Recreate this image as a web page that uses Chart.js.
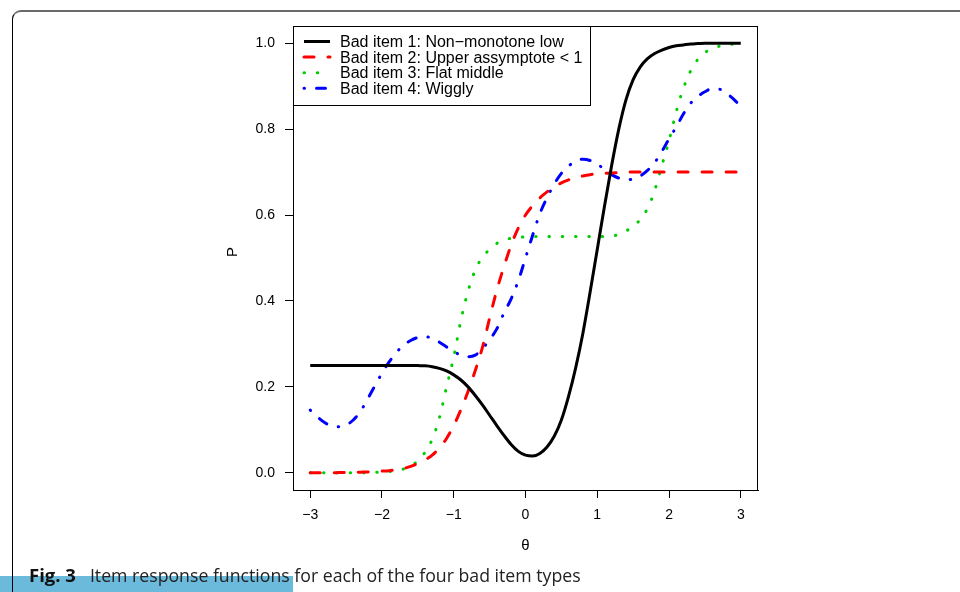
<!DOCTYPE html>
<html>
<head>
<meta charset="utf-8">
<script src="https://cdn.jsdelivr.net/npm/chart.js@4.4.1/dist/chart.umd.min.js"></script>
<style>
  body { margin: 0; width: 960px; height: 592px; overflow: hidden; background: #fff; position: relative; }
  #bar { position: absolute; left: 0; top: 576px; width: 293px; height: 16px; background: #6bb9db; }
  #frame { position: absolute; left: 12px; top: 10px; width: 1000px; height: 700px;
           border-top: 2px solid #6a6a6a; border-left: 1px solid #000; border-top-left-radius: 9px; }
  #c { position: absolute; left: 0; top: 0; }
  #cap { position: absolute; left: 29px; top: 565px; font: 17.7px "Open Sans", sans-serif; line-height: 20px;
         color: #222; white-space: nowrap; }
  #cap b { color: #111; margin-right: 14px; font-size: 18.5px; }
</style>
</head>
<body>
<div id="bar"></div>
<div id="frame"></div>
<canvas id="c" width="960" height="592"></canvas>
<div id="cap"><b>Fig. 3</b>Item response functions for each of the four bad item types</div>
<script>
// theta grid and item response values
const theta = [-3, -2.9, -2.8, -2.7, -2.6, -2.5, -2.4, -2.3, -2.2, -2.1,
               -2, -1.9, -1.8, -1.7, -1.6, -1.5, -1.4, -1.3, -1.2, -1.1,
               -1, -0.9, -0.8, -0.7, -0.6, -0.5, -0.4, -0.3, -0.2, -0.1,
               0, 0.1, 0.2, 0.3, 0.4, 0.5, 0.6, 0.7, 0.8, 0.9,
               1, 1.1, 1.2, 1.3, 1.4, 1.5, 1.6, 1.7, 1.8, 1.9,
               2, 2.1, 2.2, 2.3, 2.4, 2.5, 2.6, 2.7, 2.8, 2.9, 3];
const item1 = [0.25, 0.25, 0.25, 0.25, 0.25, 0.25, 0.25, 0.25, 0.25, 0.25,
               0.25, 0.25, 0.25, 0.25, 0.25, 0.2495, 0.249, 0.247, 0.243, 0.237,
               0.228, 0.216, 0.2, 0.18, 0.158, 0.134, 0.11, 0.087, 0.066, 0.05,
               0.041, 0.039, 0.045, 0.06, 0.085, 0.123, 0.178, 0.245, 0.325, 0.42,
               0.52, 0.62, 0.715, 0.8, 0.868, 0.915, 0.945, 0.964, 0.976, 0.984,
               0.99, 0.994, 0.996, 0.998, 0.999, 1, 1, 1, 1, 1, 1];
const item2 = [0, 0, 0, 0.0003, 0.0005, 0.0007, 0.001, 0.0015, 0.002, 0.003,
               0.004, 0.005, 0.007, 0.01, 0.015, 0.022, 0.03, 0.041, 0.058, 0.08,
               0.11, 0.147, 0.19, 0.238, 0.292, 0.36, 0.425, 0.48, 0.53, 0.57,
               0.6, 0.622, 0.64, 0.654, 0.665, 0.675, 0.682, 0.687, 0.691, 0.694,
               0.696, 0.697, 0.698, 0.699, 0.7, 0.7, 0.7, 0.7, 0.7, 0.7,
               0.7, 0.7, 0.7, 0.7, 0.7, 0.7, 0.7, 0.7, 0.7, 0.7, 0.7];
const item3 = [0, 0, 0, 0, 0, 0, 0, 0, 0.0005, 0.001,
               0.002, 0.003, 0.005, 0.009, 0.016, 0.028, 0.048, 0.078, 0.128, 0.2,
               0.27, 0.355, 0.423, 0.472, 0.502, 0.52, 0.534, 0.542, 0.546, 0.548,
               0.549, 0.55, 0.55, 0.55, 0.55, 0.55, 0.55, 0.55, 0.55, 0.55,
               0.55, 0.55, 0.551, 0.555, 0.563, 0.573, 0.59, 0.615, 0.657, 0.715,
               0.773, 0.84, 0.895, 0.935, 0.962, 0.978, 0.987, 0.993, 0.996, 0.998, 0.999];
const item4 = [0.146, 0.13, 0.117, 0.109, 0.107, 0.111, 0.123, 0.143, 0.172, 0.202,
               0.232, 0.258, 0.28, 0.297, 0.308, 0.315, 0.317, 0.313, 0.304, 0.293,
               0.282, 0.274, 0.27, 0.274, 0.289, 0.31, 0.335, 0.372, 0.405, 0.447,
               0.5, 0.553, 0.603, 0.64, 0.672, 0.697, 0.714, 0.725, 0.73, 0.727,
               0.719, 0.706, 0.694, 0.686, 0.682, 0.684, 0.691, 0.704, 0.722, 0.748,
               0.777, 0.805, 0.835, 0.86, 0.876, 0.887, 0.894, 0.893, 0.883, 0.87, 0.852];

const seriesNames = ['Bad item 1: Non\u2212monotone low', 'Bad item 2: Upper assymptote < 1',
                     'Bad item 3: Flat middle', 'Bad item 4: Wiggly'];
const xTicks = [-3, -2, -1, 0, 1, 2, 3];
const xTickLabels = ['\u22123', '\u22122', '\u22121', '0', '1', '2', '3'];
const yTicks = [0, 0.2, 0.4, 0.6, 0.8, 1];
const yTickLabels = ['0.0', '0.2', '0.4', '0.6', '0.8', '1.0'];
const xTitle = '\u03b8';
const yTitle = 'P';

const FONT = '"Liberation Sans", Arial, sans-serif';

function pts(vals) {
    return theta.map((t, i) => ({ x: t, y: vals[i] }));
}

const styles = [
    { color: '#000000', dash: [], cap: 'butt' },
    { color: '#ff0000', dash: [10, 14], cap: 'round' },
    { color: '#00cd00', dash: [0.5, 12.8], cap: 'round' },
    { color: '#0000ff', dash: [0.5, 12, 9, 12], cap: 'round' }
];
const allItems = [item1, item2, item3, item4];

// box around the plot, axis titles and the legend inside the top-left corner
const rBox = {
    id: 'rBox',
    afterDraw(chart) {
        const { ctx, chartArea: a } = chart;
        ctx.save();
        ctx.strokeStyle = '#000';
        ctx.lineWidth = 1;
        ctx.setLineDash([]);
        ctx.strokeRect(a.left + 0.5, a.top + 0.5, a.right - a.left - 1, a.bottom - a.top);

        ctx.fillStyle = '#000';
        ctx.font = '15px ' + FONT;
        ctx.textAlign = 'center';
        ctx.textBaseline = 'middle';
        ctx.fillText(xTitle, (a.left + a.right) / 2, a.bottom + 56);
        ctx.save();
        ctx.translate(a.left - 60, (a.top + a.bottom) / 2 - 6);
        ctx.rotate(-Math.PI / 2);
        ctx.fillText(yTitle, 0, 0);
        ctx.restore();

        // legend
        const lx = a.left + 0.5, ly = a.top + 0.5, lw = 297, lh = 79;
        ctx.fillStyle = '#fff';
        ctx.fillRect(lx, ly, lw, lh);
        ctx.strokeRect(lx, ly, lw, lh);
        ctx.font = '16px ' + FONT;
        ctx.textAlign = 'left';
        chart.data.datasets.forEach((ds, i) => {
            const y = a.top + 15.5 + i * 15.6;
            ctx.beginPath();
            ctx.strokeStyle = ds.borderColor;
            ctx.lineWidth = ds.borderWidth;
            ctx.lineCap = ds.borderCapStyle;
            ctx.setLineDash(ds.borderDash);
            ctx.moveTo(a.left + 11, y);
            ctx.lineTo(a.left + 37, y);
            ctx.stroke();
            ctx.setLineDash([]);
            ctx.fillStyle = '#000';
            ctx.fillText(ds.label, a.left + 47, y + 1);
        });
        ctx.restore();
    }
};

const ctx = document.getElementById('c').getContext('2d');
new Chart(ctx, {
    type: 'line',
    data: {
        datasets: allItems.map((vals, i) => ({
            label: seriesNames[i],
            data: pts(vals),
            borderColor: styles[i].color,
            borderWidth: 3,
            borderDash: styles[i].dash,
            borderCapStyle: styles[i].cap,
            pointRadius: 0,
            cubicInterpolationMode: 'monotone',
            fill: false
        }))
    },
    options: {
        responsive: false,
        animation: false,
        layout: { padding: { top: 26, right: 202, bottom: 0, left: 0 } },
        plugins: { legend: { display: false }, tooltip: { enabled: false } },
        scales: {
            x: {
                type: 'linear',
                min: -3.24,
                max: 3.24,
                afterBuildTicks: s => { s.ticks = xTicks.map(v => ({ value: v })); },
                afterFit: s => { s.height = 102; },
                ticks: {
                    color: '#000',
                    font: { family: FONT, size: 14 },
                    padding: 9,
                    maxRotation: 0,
                    autoSkip: false,
                    callback: (v) => xTickLabels[xTicks.indexOf(v)]
                },
                grid: { drawOnChartArea: false, drawTicks: true, tickLength: 8, color: '#000' },
                border: { display: true, color: '#000', width: 1 }
            },
            y: {
                min: -0.04,
                max: 1.04,
                afterBuildTicks: s => { s.ticks = yTicks.map(v => ({ value: v })); },
                afterFit: s => { s.width = 293; },
                ticks: {
                    color: '#000',
                    font: { family: FONT, size: 14 },
                    padding: 10,
                    autoSkip: false,
                    callback: (v) => yTickLabels[yTicks.indexOf(v)]
                },
                grid: { drawOnChartArea: false, drawTicks: true, tickLength: 8, color: '#000' },
                border: { display: true, color: '#000', width: 1 }
            }
        }
    },
    plugins: [rBox]
});
</script>
</body>
</html>
